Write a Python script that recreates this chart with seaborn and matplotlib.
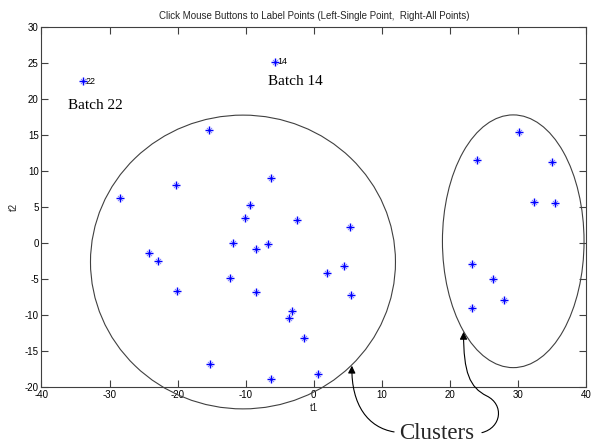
import numpy as np
import pandas as pd
import matplotlib
matplotlib.use("Agg")
import matplotlib.pyplot as plt
import seaborn as sns
from matplotlib.patches import Ellipse, FancyArrowPatch
from matplotlib.path import Path

# Scores on the first two components
t1 = [-33.9, -5.7, -15.4, -28.4, -20.3, -6.3, -9.3, -10.1, -2.45,
      -24.2, -22.9, -11.9, -6.7, -8.5, 5.3, 4.4, 1.9, -12.3, -20.1,
      -8.5, 5.5, -3.2, -3.7, -1.5, -15.3, 0.6, -6.3,
      30.2, 24.05, 35.0, 32.4, 35.5, 23.2, 26.35, 27.9, 23.2]
t2 = [22.5, 25.2, 15.8, 6.25, 8.1, 9.0, 5.3, 3.55, 3.2,
      -1.3, -2.4, 0.05, -0.15, -0.75, 2.2, -3.2, -4.1, -4.8, -6.6,
      -6.8, -7.2, -9.4, -10.4, -13.15, -16.7, -18.15, -18.85,
      15.5, 11.6, 11.3, 5.8, 5.55, -2.9, -4.9, -7.9, -9.0]
point_labels = ["22", "14"] + [""] * (len(t1) - 2)

# Outlying batches called out by name
batch_names = ["Batch 22", "Batch 14"]
batch_name_x = [-32.1, -2.75]
batch_name_y = [19.1, 22.4]

# Cluster outlines: centre, width, height
cluster_cx = [-10.4, 29.3]
cluster_cy = [-2.6, 0.28]
cluster_w = [44.8, 20.8]
cluster_h = [40.8, 35.1]

df = pd.DataFrame({"t1": t1, "t2": t2, "label": point_labels})

sns.set_theme(style="ticks")
plt.rcParams["font.family"] = ["Liberation Sans", "DejaVu Sans"]
plt.rcParams["axes.unicode_minus"] = False

fig = plt.figure(figsize=(5.95, 4.45), dpi=100)
ax = fig.add_axes([0.0697, 0.1297, 0.9153, 0.809])

# asterisk markers: a bold plus with lighter diagonals
sns.scatterplot(data=df, x="t1", y="t2", ax=ax, marker="x",
                color="#7070ff", s=14, linewidth=0.6, edgecolor="#7070ff",
                legend=False, zorder=3)
sns.scatterplot(data=df, x="t1", y="t2", ax=ax, marker="+",
                color="#0000ff", s=30, linewidth=1.0, edgecolor="#0000ff",
                legend=False, zorder=3)

for _, r in df[df["label"] != ""].iterrows():
    ax.text(r["t1"] + 0.4, r["t2"], r["label"], fontsize=6.5,
            va="center", ha="left", color="black")

for name, x, y in zip(batch_names, batch_name_x, batch_name_y):
    ax.text(x, y, name, fontsize=11, family="Liberation Serif",
            ha="center", va="center", color="black")

for cx, cy, w, h in zip(cluster_cx, cluster_cy, cluster_w, cluster_h):
    ax.add_patch(Ellipse((cx, cy), w, h, fill=False, edgecolor="#404040",
                         linewidth=0.8, clip_on=False, zorder=2))

ax.set_xlim(-40, 40)
ax.set_ylim(-20, 30)
ax.set_xticks(np.arange(-40, 41, 10))
ax.set_yticks(np.arange(-20, 31, 5))
ax.tick_params(direction="in", length=5, width=0.8, labelsize=7,
               top=True, right=True, colors="#404040", labelcolor="black",
               pad=2)
for sp in ax.spines.values():
    sp.set_visible(True)
    sp.set_color("#404040")
    sp.set_linewidth(0.8)
ax.set_xlabel("t1", fontsize=7, labelpad=2)
ax.set_ylabel("t2", fontsize=7, labelpad=4)
ax.set_title("Click Mouse Buttons to Label Points (Left-Single Point,  Right-All Points)",
             fontsize=7, pad=6)

# "Clusters" callout with curved arrows
ax.text(18.0, -26.4, "Clusters", fontsize=16.5, family="Liberation Serif",
        ha="center", va="center", clip_on=False)

left_path = Path([(11.8, -26.2), (8.0, -25.6), (5.5, -22.5), (5.6, -17.0)],
                 [Path.MOVETO, Path.CURVE4, Path.CURVE4, Path.CURVE4])
right_path = Path([(24.7, -26.3), (27.6, -25.6), (28.0, -22.4), (25.4, -21.2),
                   (22.9, -20.0), (22.0, -18.0), (22.0, -12.3)],
                  [Path.MOVETO, Path.CURVE4, Path.CURVE4, Path.CURVE4,
                   Path.CURVE4, Path.CURVE4, Path.CURVE4])
for p in (left_path, right_path):
    arr = FancyArrowPatch(path=p, arrowstyle="-|>", mutation_scale=11,
                          color="black", linewidth=0.8,
                          transform=ax.transData, clip_on=False, zorder=4)
    ax.add_patch(arr)

fig.savefig("out.png", dpi=100)
